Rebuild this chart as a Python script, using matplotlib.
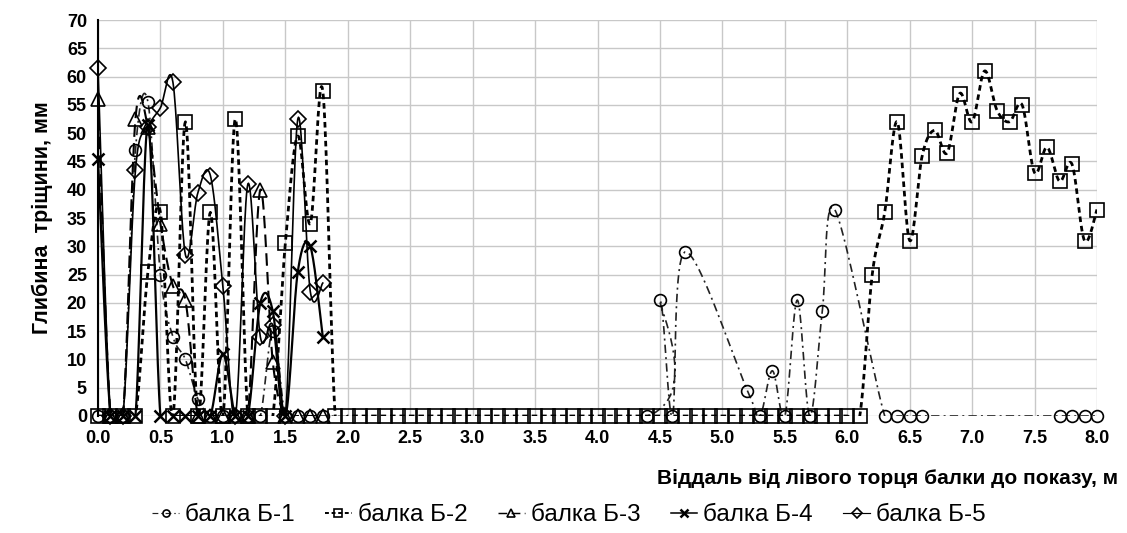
import numpy as np
import matplotlib
matplotlib.use("Agg")
import matplotlib.pyplot as plt
from matplotlib.lines import Line2D

plt.rcParams['font.family'] = ['Liberation Sans', 'DejaVu Sans']

# Data (depth of crack, mm, vs distance from left end of beam, m)
x_b1 = [0.0, 0.1, 0.2, 0.3, 0.4, 0.5, 0.6, 0.7, 0.8, 0.9, 1.0, 1.1, 1.2, 1.3, 1.4, 1.5, 1.6, 1.7, 1.8,
        4.4, 4.5, 4.6, 4.7, 5.2, 5.3, 5.4, 5.5, 5.6, 5.7, 5.8, 5.9, 6.3, 6.4, 6.5, 6.6, 7.7, 7.8, 7.9, 8.0]
y_b1 = [0, 0, 0, 47, 55.5, 25, 14, 10, 3, 0, 0, 0, 0, 0, 15, 0, 0, 0, 0,
        0, 20.5, 0, 29, 4.5, 0, 8, 0, 20.5, 0, 18.5, 36.5, 0, 0, 0, 0, 0, 0, 0, 0]

x_b2 = [round(0.1 * i, 1) for i in range(81)]
y_b2 = [0, 0, 0, 0, 25.5, 36, 0, 52, 0, 36, 0, 52.5, 0, 0, 0, 30.5, 49.5, 34, 57.5,
        0, 0, 0, 0, 0, 0, 0, 0, 0, 0, 0, 0, 0, 0, 0, 0, 0, 0, 0, 0, 0, 0,
        0, 0, 0, 0, 0, 0, 0, 0, 0, 0, 0, 0, 0, 0, 0, 0, 0, 0, 0, 0, 0,
        25, 36, 52, 31, 46, 50.5, 46.5, 57, 52, 61, 54, 52, 55, 43, 47.5, 41.5, 44.5, 31, 36.5]

x_left = [0.0, 0.1, 0.2, 0.3, 0.4, 0.5, 0.6, 0.7, 0.8, 0.9, 1.0, 1.1, 1.2, 1.3, 1.4, 1.5, 1.6, 1.7, 1.8]
y_b3 = [56, 0, 0, 52.5, 51, 34, 23, 20.5, 0, 0, 0, 0, 0, 40, 9.5, 0, 0, 0, 0]
y_b4 = [45.5, 0, 0, 0, 51.5, 0, 0, 0, 0, 0, 11, 0, 0, 20, 18.5, 0, 25.5, 30, 14]
y_b5 = [61.5, 0, 0, 43.5, 51, 54.5, 59, 28.5, 39.5, 42.5, 23, 0, 41, 14, 16, 0, 52.5, 22, 23.5]

labels = ['балка Б-1', 'балка Б-2', 'балка Б-3', 'балка Б-4', 'балка Б-5']


def smooth(x, y, n=20):
    # Catmull-Rom style bezier smoothing (like Excel "smoothed line")
    x = np.asarray(x, float)
    y = np.asarray(y, float)
    pts = np.column_stack([x, y])
    out = [pts[0]]
    t = np.linspace(0, 1, n)[1:, None]
    for i in range(len(pts) - 1):
        p0 = pts[max(i - 1, 0)]
        p1 = pts[i]
        p2 = pts[i + 1]
        p3 = pts[min(i + 2, len(pts) - 1)]
        c1 = p1 + (p2 - p0) / 6.0
        c2 = p2 - (p3 - p1) / 6.0
        seg = ((1 - t) ** 3) * p1 + 3 * ((1 - t) ** 2) * t * c1 + 3 * (1 - t) * t ** 2 * c2 + t ** 3 * p2
        out.extend(seg)
    out = np.array(out)
    return out[:, 0], out[:, 1]


fig = plt.figure(figsize=(11.27, 5.33), dpi=100)
ax = fig.add_axes([98 / 1127, 1 - 416 / 533, 999 / 1127, 396 / 533])

series = [
    (x_b1, y_b1, dict(color='#222222', lw=1.2, ls=(0, (5, 2.5, 1.2, 2.5))), dict(marker='o', ms=8.5)),
    (x_b2, y_b2, dict(color='black', lw=2.0, ls=(0, (2.0, 1.4))), dict(marker='s', ms=10)),
    (x_left, y_b3, dict(color='black', lw=1.5, ls=(0, (6, 3))), dict(marker='^', ms=9.5)),
    (x_left, y_b4, dict(color='black', lw=1.6, ls='-'), dict(marker='x', ms=8.5, mew=1.8)),
    (x_left, y_b5, dict(color='black', lw=1.2, ls='-'), dict(marker='D', ms=8)),
]

handles = []
for (xs, ys, lstyle, mstyle), lab in zip(series, labels):
    sx, sy = smooth(xs, ys)
    ax.plot(sx, sy, color=lstyle['color'], lw=lstyle['lw'], linestyle=lstyle['ls'], zorder=3)
    mk = dict(mfc='none', mec='black', mew=1.2)
    mk.update(mstyle)
    ax.plot(xs, ys, ls='none', clip_on=False, zorder=4, **mk)
    handles.append(Line2D([], [], color=lstyle['color'], lw=lstyle['lw'] * 0.7,
                          linestyle=lstyle['ls'], label=lab,
                          **{k: (v * 0.6 if k == 'ms' else v) for k, v in mk.items()}))

ax.set_xlim(0, 8)
ax.set_ylim(0, 70)
ax.set_xticks(np.arange(0, 8.01, 0.5))
ax.set_xticklabels([f"{v:.1f}" for v in np.arange(0, 8.01, 0.5)])
ax.set_yticks(np.arange(0, 71, 5))
ax.grid(True, color='#c8c8c8', lw=1.0)
ax.set_axisbelow(True)
for s in ['top', 'right', 'bottom']:
    ax.spines[s].set_visible(False)
ax.spines['left'].set_linewidth(1.5)
ax.tick_params(axis='both', length=0, labelsize=13)
ax.tick_params(axis='x', pad=10)
ax.tick_params(axis='y', pad=8)
for lbl in ax.get_xticklabels() + ax.get_yticklabels():
    lbl.set_fontweight('bold')

ax.set_ylabel('Глибина  тріщини, мм', fontsize=15.5, fontweight='bold', labelpad=10)
fig.text(1118 / 1127, 1 - 478 / 533, 'Віддаль від лівого торця балки до показу, м',
         ha='right', va='center', fontsize=15, fontweight='bold')

fig.legend(handles=handles, loc='center', bbox_to_anchor=(569 / 1127, 1 - 515 / 533),
           ncol=5, frameon=False, fontsize=17.5, handlelength=1.1, handletextpad=0.25,
           columnspacing=1.25)

fig.savefig('out.png', dpi=100)
